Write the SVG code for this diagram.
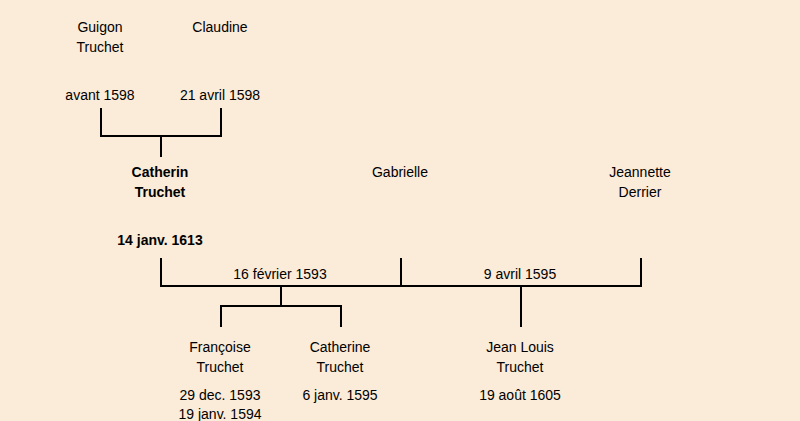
<svg xmlns="http://www.w3.org/2000/svg" width="800" height="421" viewBox="0 0 800 421">
<style>
text{font-family:"Liberation Sans","DejaVu Sans",sans-serif;font-size:14px;fill:#000;text-anchor:middle}
.b{font-weight:bold}
.c line{stroke:#000;stroke-width:2;stroke-linecap:square}
</style>
<rect width="800" height="421" fill="#fbebd9"/>
<g class="c" id="connectors">
<line x1="101" y1="109" x2="101" y2="136"/>
<line x1="221" y1="109" x2="221" y2="136"/>
<line x1="101" y1="136" x2="221" y2="136"/>
<line x1="161" y1="136" x2="161" y2="156"/>
<line x1="161" y1="259" x2="161" y2="286"/>
<line x1="401" y1="259" x2="401" y2="286"/>
<line x1="641" y1="259" x2="641" y2="286"/>
<line x1="161" y1="286" x2="641" y2="286"/>
<line x1="281" y1="286" x2="281" y2="306"/>
<line x1="221" y1="306" x2="341" y2="306"/>
<line x1="221" y1="306" x2="221" y2="326"/>
<line x1="341" y1="306" x2="341" y2="326"/>
<line x1="521" y1="286" x2="521" y2="326"/>
<text x="280" y="279">16 février 1593</text>
<text x="520" y="279">9 avril 1595</text>
</g>
<g id="guigon"><text x="100" y="32">Guigon</text><text x="100" y="52">Truchet</text><text x="100" y="100">avant 1598</text></g>
<g id="claudine"><text x="220" y="32">Claudine</text><text x="220" y="100">21 avril 1598</text></g>
<g id="catherin" class="b"><text class="b" x="160" y="177">Catherin</text><text class="b" x="160" y="197">Truchet</text><text class="b" x="160" y="245">14 janv. 1613</text></g>
<g id="gabrielle"><text x="400" y="177">Gabrielle</text></g>
<g id="jeannette"><text x="640" y="177">Jeannette</text><text x="640" y="197">Derrier</text></g>
<g id="francoise"><text x="220" y="352">Françoise</text><text x="220" y="372">Truchet</text><text x="220" y="400">29 dec. 1593</text><text x="220" y="419">19 janv. 1594</text></g>
<g id="catherine"><text x="340" y="352">Catherine</text><text x="340" y="372">Truchet</text><text x="340" y="400">6 janv. 1595</text></g>
<g id="jeanlouis"><text x="520" y="352">Jean Louis</text><text x="520" y="372">Truchet</text><text x="520" y="400">19 août 1605</text></g>
</svg>
